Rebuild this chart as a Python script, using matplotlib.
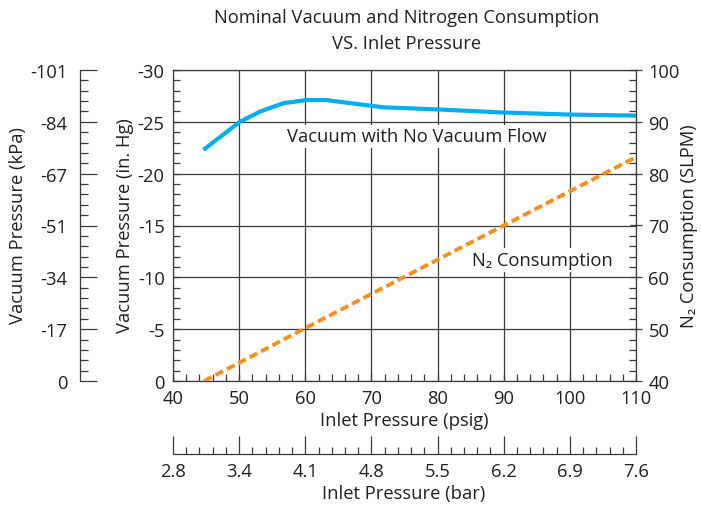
import matplotlib.pyplot as plt
from matplotlib.ticker import MultipleLocator, FixedLocator

plt.rcParams['font.family'] = ['Open Sans', 'DejaVu Sans']
plt.rcParams['axes.unicode_minus'] = False

# data
inlet_psig = [44.6, 50.1, 53.2, 56.7, 60.2, 63.2, 66.8, 71.8, 79.9, 89.9, 100.0, 110.0]
vacuum_inhg = [-22.3, -25.0, -26.0, -26.8, -27.1, -27.1, -26.8, -26.4, -26.2, -25.9, -25.7, -25.6]

n2_psig = [44.7, 50, 60, 70, 80, 90, 100, 110]
n2_slpm = [40.0, 43.5, 50.2, 56.8, 63.4, 70.0, 76.6, 83.2]

inhg_ticks = [0, -5, -10, -15, -20, -25, -30]
kpa_labels = ['0', '-17', '-34', '-51', '-67', '-84', '-101']
psig_ticks = [40, 50, 60, 70, 80, 90, 100, 110]
bar_labels = ['2.8', '3.4', '4.1', '4.8', '5.5', '6.2', '6.9', '7.6']

blue = '#00AEEF'
orange = '#F7901E'
txt = '#231F20'
grid_c = '#3a3a3a'
fs = 13.2
W, H = 701, 506

fig = plt.figure(figsize=(W / 100, H / 100), dpi=100)

def rect(x0, y0, x1, y1):
    return [x0 / W, 1 - y1 / H, (x1 - x0) / W, (y1 - y0) / H]

def fx(px):
    return px / W

def fy(py):
    return 1 - py / H

ax = fig.add_axes(rect(173, 71, 636, 382))
ax.set_xlim(40, 110)
ax.set_ylim(0, -30)
ax.xaxis.set_major_locator(FixedLocator(psig_ticks))
ax.xaxis.set_minor_locator(MultipleLocator(2))
ax.yaxis.set_major_locator(FixedLocator(inhg_ticks))
ax.yaxis.set_minor_locator(MultipleLocator(1))
ax.grid(True, which='major', color=grid_c, lw=0.9)
ax.tick_params(which='both', direction='in', colors=grid_c, labelcolor=txt, labelsize=fs, width=0.9)
ax.tick_params(which='major', length=5)
ax.tick_params(axis='x', which='major', pad=6)
ax.tick_params(axis='y', which='major', pad=6)
ax.tick_params(which='minor', length=5)
for s in ax.spines.values():
    s.set_color(grid_c)
    s.set_linewidth(0.9)
ax.set_xlabel('Inlet Pressure (psig)', fontsize=fs, color=txt)
ax.xaxis.set_label_coords(fx(404), fy(421), transform=fig.transFigure)
ax.xaxis.label.set_va('center')
ax.set_ylabel('Vacuum Pressure (in. Hg)', fontsize=fs, color=txt)
ax.yaxis.set_label_coords(fx(125), fy(226), transform=fig.transFigure)
ax.yaxis.label.set_va('center')
ax.plot(inlet_psig, vacuum_inhg, color=blue, lw=3.0, solid_capstyle='butt', zorder=4)
ax.text(76.9, -23.6, 'Vacuum with No Vacuum Flow', fontsize=fs, color=txt,
        ha='center', va='center', zorder=3,
        bbox=dict(facecolor='white', edgecolor='none', pad=2))

fig.text(fx(407), fy(18), 'Nominal Vacuum and Nitrogen Consumption',
         fontsize=fs, color=txt, ha='center', va='center')
fig.text(fx(407), fy(44), 'VS. Inlet Pressure',
         fontsize=fs, color=txt, ha='center', va='center')

ax2 = ax.twinx()
ax2.set_ylim(40, 100)
ax2.yaxis.set_major_locator(MultipleLocator(10))
ax2.yaxis.set_minor_locator(MultipleLocator(2))
ax2.tick_params(which='both', direction='in', colors=grid_c, labelcolor=txt, labelsize=fs, width=0.9)
ax2.tick_params(which='major', direction='inout', length=8, pad=5)
ax2.tick_params(which='minor', length=5)
for s in ax2.spines.values():
    s.set_visible(False)
ax2.set_ylabel('N\u2082 Consumption (SLPM)', fontsize=fs, color=txt, rotation=90)
ax2.yaxis.set_label_coords(fx(689), fy(226), transform=fig.transFigure)
ax2.yaxis.label.set_va('center')
ax2.plot(n2_psig, n2_slpm, color=orange, lw=2.8, dashes=(2.2, 1.1), zorder=5)
ax2.text(95.9, 63.3, 'N\u2082 Consumption', fontsize=fs, color=txt,
         ha='center', va='center', zorder=3,
         bbox=dict(facecolor='white', edgecolor='none', pad=2))
ax.set_zorder(ax2.get_zorder() - 1)
ax2.patch.set_visible(False)

# kPa axis on the far left
axk = fig.add_axes(rect(80, 71, 81, 382))
axk.set_ylim(0, -30)
axk.set_xticks([])
axk.yaxis.set_major_locator(FixedLocator(inhg_ticks))
axk.set_yticklabels(kpa_labels)
axk.yaxis.set_minor_locator(MultipleLocator(1))
axk.tick_params(which='both', direction='in', colors=grid_c, labelcolor=txt, labelsize=fs, width=0.9)
axk.tick_params(which='major', length=12, pad=9)
axk.tick_params(which='minor', length=6)
for k in ['top', 'right', 'bottom']:
    axk.spines[k].set_visible(False)
axk.spines['left'].set_color(grid_c)
axk.spines['left'].set_linewidth(0.9)
axk.patch.set_visible(False)
axk.set_ylabel('Vacuum Pressure (kPa)', fontsize=fs, color=txt)
axk.yaxis.set_label_coords(fx(18), fy(226), transform=fig.transFigure)
axk.yaxis.label.set_va('center')

# bar axis below
axb = fig.add_axes(rect(173, 454, 636, 455))
axb.set_xlim(40, 110)
axb.set_yticks([])
axb.xaxis.set_major_locator(FixedLocator(psig_ticks))
axb.set_xticklabels(bar_labels)
axb.xaxis.set_minor_locator(MultipleLocator(2))
axb.tick_params(which='both', direction='in', colors=grid_c, labelcolor=txt, labelsize=fs, width=0.9)
axb.tick_params(which='major', length=13, pad=6)
axb.tick_params(which='minor', length=5)
for k in ['top', 'left', 'right']:
    axb.spines[k].set_visible(False)
axb.spines['bottom'].set_color(grid_c)
axb.spines['bottom'].set_linewidth(0.9)
axb.patch.set_visible(False)
axb.set_xlabel('Inlet Pressure (bar)', fontsize=fs, color=txt)
axb.xaxis.set_label_coords(fx(404), fy(494), transform=fig.transFigure)
axb.xaxis.label.set_va('center')

fig.savefig('out.png', dpi=100)
